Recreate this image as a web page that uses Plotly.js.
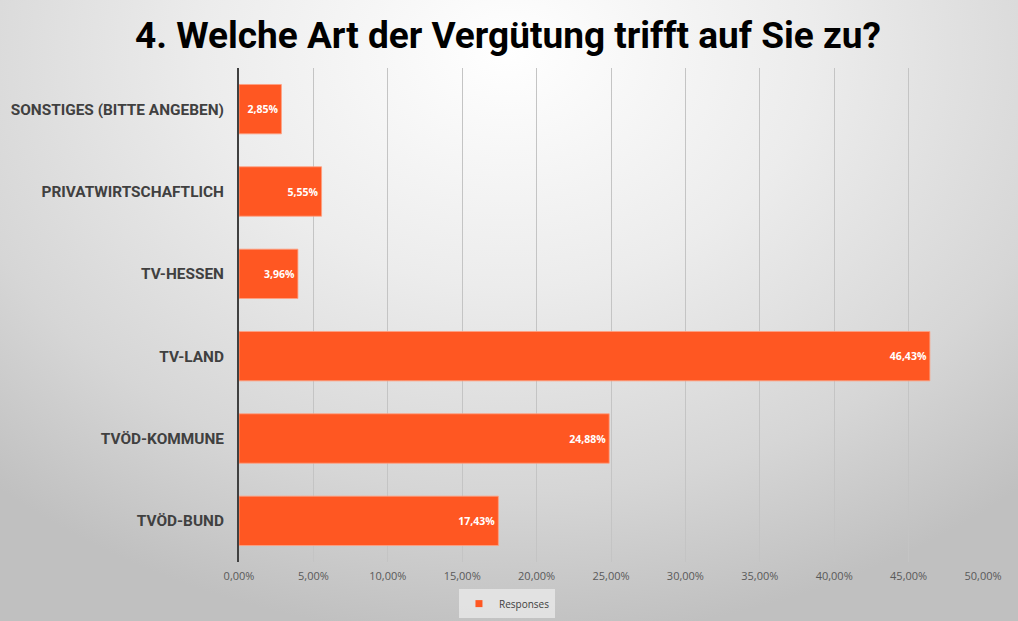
<!DOCTYPE html>
<html>
<head>
<meta charset="utf-8">
<script src="https://cdn.plot.ly/plotly-3.0.1.min.js"></script>
<style>
  html, body { margin: 0; padding: 0; }
  body {
    width: 1018px; height: 621px; overflow: hidden;
    background: radial-gradient(ellipse 75% 95% at 50% 8%, #ffffff 0%, #ececec 40%, #d6d6d6 75%, #c0c0c0 100%);
  }
  #chart { width: 1018px; height: 621px; }
</style>
</head>
<body>
<div id="chart"></div>
<script>
const categories = [
  "TVÖD-BUND",
  "TVÖD-KOMMUNE",
  "TV-LAND",
  "TV-HESSEN",
  "PRIVATWIRTSCHAFTLICH",
  "SONSTIGES (BITTE ANGEBEN)"
];
const responses = [17.43, 24.88, 46.43, 3.96, 5.55, 2.85];
const xTicks = [0, 5, 10, 15, 20, 25, 30, 35, 40, 45, 50];
const seriesName = "Responses";
const titleText = "4. Welche Art der Vergütung trifft auf Sie zu?";

const fmt = v => v.toFixed(2).replace(".", ",") + "%";

const barTrace = {
  type: "bar",
  orientation: "h",
  name: seriesName,
  showlegend: false,
  y: categories,
  x: responses,
  width: 0.6,
  marker: { color: "#ff5722", line: { color: "rgba(255,160,130,0.8)", width: 1 } },
  text: responses.map(fmt),
  texttemplate: "%{text}",
  textposition: "inside",
  insidetextanchor: "end",
  textangle: 0,
  constraintext: "none",
  textfont: { family: "Open Sans, sans-serif", size: 10.5, color: "#ffffff", weight: "bold" },
  hoverinfo: "skip"
};

// legend entry only (small square key like the original)
const legendTrace = {
  type: "scatter",
  mode: "markers",
  name: seriesName,
  x: [null], y: [null],
  marker: { symbol: "square", size: 7, color: "#ff5722" },
  showlegend: true,
  hoverinfo: "skip"
};

const layout = {
  width: 1018, height: 621,
  paper_bgcolor: "rgba(0,0,0,0)",
  plot_bgcolor: "rgba(0,0,0,0)",
  separators: ",.",
  margin: { l: 239, r: 35, t: 68, b: 59 },
  title: {
    text: "<b>" + titleText + "</b>",
    font: { family: "Roboto, sans-serif", size: 37, color: "#000000" },
    x: 0.499, xref: "container", xanchor: "center",
    y: 0.944, yref: "container", yanchor: "middle"
  },
  xaxis: {
    range: [0, 50],
    tickmode: "array",
    tickvals: xTicks,
    ticktext: xTicks.map(fmt),
    showgrid: true,
    gridcolor: "#c4c4c4",
    gridwidth: 1,
    zeroline: false,
    showline: false,
    ticks: "",
    ticklabelstandoff: 6,
    tickfont: { family: "Open Sans, sans-serif", size: 11, color: "#595959" },
    fixedrange: true
  },
  yaxis: {
    type: "category",
    categoryorder: "array",
    categoryarray: categories,
    showgrid: false,
    zeroline: false,
    showline: true,
    linecolor: "#404040",
    linewidth: 2,
    ticks: "",
    ticklabelstandoff: 10,
    tickfont: { family: "Roboto, sans-serif", size: 15.4, color: "#404040", weight: "bold" },
    fixedrange: true
  },
  showlegend: true,
  legend: {
    orientation: "h",
    xref: "container", yref: "container",
    x: 0.498, xanchor: "center",
    y: 0.028, yanchor: "middle",
    bgcolor: "rgba(232,232,232,0.8)",
    font: { family: "Open Sans, sans-serif", size: 10, color: "#404040" },
    itemwidth: 30,
    traceorder: "normal"
  },
  bargap: 0.4
};

Plotly.newPlot("chart", [barTrace, legendTrace], layout, { displayModeBar: false, staticPlot: true });
</script>
</body>
</html>
